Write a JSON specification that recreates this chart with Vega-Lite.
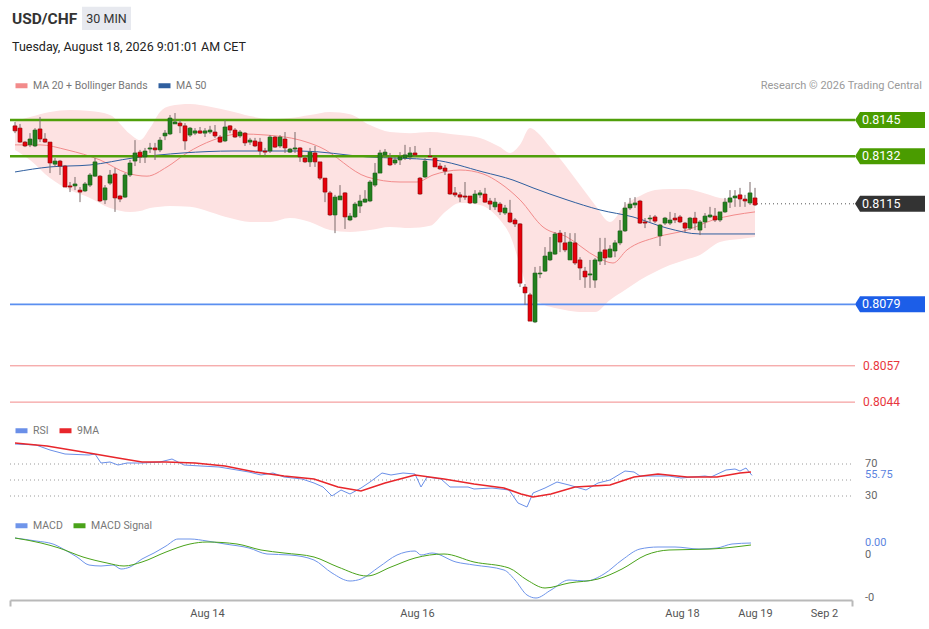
{
"$schema": "https://vega.github.io/schema/vega-lite/v6.json",
"width": 842, "height": 540,
"padding": {"left": 10, "top": 60, "right": 77, "bottom": 29},
"autosize": {"type": "none"},
"background": "white",
"title": {"text": "USD/CHF", "subtitle": "Tuesday, August 18, 2026 9:01:01 AM CET", "anchor": "start", "frame": "group", "dx": 2, "fontSize": 15.5, "fontWeight": "bold", "font": "Roboto", "color": "#333333", "subtitleFont": "Roboto", "subtitleFontSize": 12.5, "subtitleColor": "#222222", "subtitlePadding": 14, "offset": -47},
"config": {"view": {"stroke": null}, "font": "Roboto", "axisY": {"disable": true},
  "legend": {"orient": "none", "direction": "horizontal", "title": null, "labelFont": "Roboto", "labelFontSize": 10.5, "labelColor": "#777777", "symbolType": "stroke", "symbolStrokeWidth": 5, "symbolSize": 144, "columnPadding": 0, "labelOffset": 3, "padding": 0}},
"datasets": {
"candles": [
{"t":0,"o":0.81429,"h":0.81443,"l":0.81403,"c":0.81411},
{"t":1,"o":0.81421,"h":0.81436,"l":0.81368,"c":0.81371},
{"t":2,"o":0.81371,"h":0.81375,"l":0.81353,"c":0.81357},
{"t":3,"o":0.81361,"h":0.81403,"l":0.81353,"c":0.81382},
{"t":4,"o":0.81357,"h":0.81421,"l":0.81353,"c":0.81414},
{"t":5,"o":0.81418,"h":0.81461,"l":0.81371,"c":0.81382},
{"t":6,"o":0.81382,"h":0.81403,"l":0.81368,"c":0.81371},
{"t":7,"o":0.81371,"h":0.81371,"l":0.8126,"c":0.81296},
{"t":8,"o":0.81292,"h":0.81314,"l":0.81282,"c":0.81303},
{"t":9,"o":0.81303,"h":0.81307,"l":0.81253,"c":0.81285},
{"t":10,"o":0.81285,"h":0.81289,"l":0.8121,"c":0.8121},
{"t":11,"o":0.81214,"h":0.81228,"l":0.81192,"c":0.8121},
{"t":12,"o":0.81214,"h":0.81246,"l":0.81199,"c":0.81221},
{"t":13,"o":0.81199,"h":0.8121,"l":0.81156,"c":0.81192},
{"t":14,"o":0.81196,"h":0.81228,"l":0.81192,"c":0.81221},
{"t":15,"o":0.81217,"h":0.8126,"l":0.8121,"c":0.81253},
{"t":16,"o":0.81249,"h":0.81314,"l":0.81246,"c":0.813},
{"t":17,"o":0.81249,"h":0.81253,"l":0.81156,"c":0.8116},
{"t":18,"o":0.81164,"h":0.81217,"l":0.81149,"c":0.81207},
{"t":19,"o":0.81224,"h":0.81271,"l":0.81217,"c":0.81253},
{"t":20,"o":0.81257,"h":0.81278,"l":0.81121,"c":0.81171},
{"t":21,"o":0.81178,"h":0.81182,"l":0.81156,"c":0.81167},
{"t":22,"o":0.81174,"h":0.8126,"l":0.81171,"c":0.81253},
{"t":23,"o":0.81253,"h":0.81307,"l":0.81246,"c":0.81296},
{"t":24,"o":0.81303,"h":0.81378,"l":0.81285,"c":0.81332},
{"t":25,"o":0.81335,"h":0.81343,"l":0.81296,"c":0.81318},
{"t":26,"o":0.81318,"h":0.8135,"l":0.81296,"c":0.81339},
{"t":27,"o":0.81346,"h":0.81368,"l":0.81332,"c":0.8135},
{"t":28,"o":0.8135,"h":0.81368,"l":0.81307,"c":0.81343},
{"t":29,"o":0.81343,"h":0.81389,"l":0.81335,"c":0.81378},
{"t":30,"o":0.81393,"h":0.81414,"l":0.81378,"c":0.81403},
{"t":31,"o":0.814,"h":0.81468,"l":0.81396,"c":0.81457},
{"t":32,"o":0.81436,"h":0.81475,"l":0.81436,"c":0.81443},
{"t":33,"o":0.81439,"h":0.8145,"l":0.81403,"c":0.81429},
{"t":34,"o":0.81429,"h":0.81439,"l":0.81343,"c":0.81375},
{"t":35,"o":0.81396,"h":0.81425,"l":0.81389,"c":0.81421},
{"t":36,"o":0.81403,"h":0.81421,"l":0.81396,"c":0.81411},
{"t":37,"o":0.81411,"h":0.81425,"l":0.814,"c":0.81403},
{"t":38,"o":0.81403,"h":0.81421,"l":0.81389,"c":0.81411},
{"t":39,"o":0.81407,"h":0.81429,"l":0.814,"c":0.81414},
{"t":40,"o":0.81407,"h":0.81432,"l":0.81386,"c":0.81393},
{"t":41,"o":0.81389,"h":0.81396,"l":0.81368,"c":0.81371},
{"t":42,"o":0.81375,"h":0.8145,"l":0.81371,"c":0.81425},
{"t":43,"o":0.81429,"h":0.81432,"l":0.81403,"c":0.81414},
{"t":44,"o":0.81414,"h":0.81421,"l":0.81386,"c":0.81389},
{"t":45,"o":0.81393,"h":0.81414,"l":0.81386,"c":0.81407},
{"t":46,"o":0.81403,"h":0.81407,"l":0.81357,"c":0.81368},
{"t":47,"o":0.81371,"h":0.81386,"l":0.81361,"c":0.81378},
{"t":48,"o":0.81375,"h":0.81386,"l":0.81353,"c":0.81357},
{"t":49,"o":0.81371,"h":0.81386,"l":0.81325,"c":0.81339},
{"t":50,"o":0.81339,"h":0.8135,"l":0.81321,"c":0.81335},
{"t":51,"o":0.81339,"h":0.81396,"l":0.81332,"c":0.81389},
{"t":52,"o":0.81389,"h":0.81393,"l":0.8135,"c":0.81353},
{"t":53,"o":0.81357,"h":0.81396,"l":0.8135,"c":0.81389},
{"t":54,"o":0.81382,"h":0.81407,"l":0.81332,"c":0.8135},
{"t":55,"o":0.81335,"h":0.8135,"l":0.81332,"c":0.81346},
{"t":56,"o":0.81346,"h":0.81407,"l":0.81332,"c":0.8135},
{"t":57,"o":0.8135,"h":0.81353,"l":0.813,"c":0.81318},
{"t":58,"o":0.81314,"h":0.81325,"l":0.81296,"c":0.813},
{"t":59,"o":0.813,"h":0.8135,"l":0.81282,"c":0.81335},
{"t":60,"o":0.81332,"h":0.81357,"l":0.81282,"c":0.813},
{"t":61,"o":0.813,"h":0.813,"l":0.81235,"c":0.81242},
{"t":62,"o":0.81242,"h":0.81242,"l":0.81156,"c":0.81192},
{"t":63,"o":0.81189,"h":0.81196,"l":0.81106,"c":0.8111},
{"t":64,"o":0.8111,"h":0.81182,"l":0.81045,"c":0.81174},
{"t":65,"o":0.81164,"h":0.81217,"l":0.81164,"c":0.81178},
{"t":66,"o":0.81189,"h":0.81192,"l":0.8106,"c":0.81103},
{"t":67,"o":0.81092,"h":0.81117,"l":0.81088,"c":0.81106},
{"t":68,"o":0.81103,"h":0.81156,"l":0.81099,"c":0.81149},
{"t":69,"o":0.81142,"h":0.81182,"l":0.81117,"c":0.8116},
{"t":70,"o":0.81156,"h":0.81199,"l":0.81153,"c":0.81167},
{"t":71,"o":0.8116,"h":0.81235,"l":0.81156,"c":0.81228},
{"t":72,"o":0.81217,"h":0.81296,"l":0.8121,"c":0.8126},
{"t":73,"o":0.8126,"h":0.81343,"l":0.8126,"c":0.81332},
{"t":74,"o":0.81325,"h":0.81346,"l":0.81318,"c":0.81335},
{"t":75,"o":0.81314,"h":0.81332,"l":0.81285,"c":0.81289},
{"t":76,"o":0.81296,"h":0.81318,"l":0.81289,"c":0.81307},
{"t":77,"o":0.81307,"h":0.81335,"l":0.81289,"c":0.81318},
{"t":78,"o":0.81314,"h":0.81361,"l":0.81307,"c":0.81325},
{"t":79,"o":0.81318,"h":0.81353,"l":0.81307,"c":0.81332},
{"t":80,"o":0.81332,"h":0.81357,"l":0.81318,"c":0.81325},
{"t":81,"o":0.81242,"h":0.81246,"l":0.81182,"c":0.81185},
{"t":82,"o":0.81246,"h":0.81314,"l":0.81242,"c":0.81303},
{"t":83,"o":0.81321,"h":0.8135,"l":0.81318,"c":0.81318},
{"t":84,"o":0.81314,"h":0.81318,"l":0.81282,"c":0.81282},
{"t":85,"o":0.81285,"h":0.81296,"l":0.81271,"c":0.81275},
{"t":86,"o":0.81278,"h":0.81289,"l":0.81253,"c":0.81267},
{"t":87,"o":0.81257,"h":0.81257,"l":0.81182,"c":0.81185},
{"t":88,"o":0.81189,"h":0.8121,"l":0.81174,"c":0.81182},
{"t":89,"o":0.81182,"h":0.81192,"l":0.81156,"c":0.81174},
{"t":90,"o":0.81178,"h":0.81228,"l":0.81164,"c":0.81174},
{"t":91,"o":0.81178,"h":0.81178,"l":0.81149,"c":0.81153},
{"t":92,"o":0.81153,"h":0.81199,"l":0.81149,"c":0.81185},
{"t":93,"o":0.81182,"h":0.81199,"l":0.81171,"c":0.81189},
{"t":94,"o":0.81185,"h":0.81207,"l":0.81153,"c":0.81156},
{"t":95,"o":0.8116,"h":0.81171,"l":0.81128,"c":0.81149},
{"t":96,"o":0.81139,"h":0.81171,"l":0.81128,"c":0.81156},
{"t":97,"o":0.81149,"h":0.81156,"l":0.8111,"c":0.81121},
{"t":98,"o":0.81117,"h":0.81146,"l":0.8111,"c":0.81135},
{"t":99,"o":0.81117,"h":0.81164,"l":0.81081,"c":0.81085},
{"t":100,"o":0.81092,"h":0.81099,"l":0.81067,"c":0.81078},
{"t":101,"o":0.81078,"h":0.81081,"l":0.80852,"c":0.80866},
{"t":102,"o":0.80852,"h":0.80863,"l":0.80788,"c":0.80831},
{"t":103,"o":0.80824,"h":0.80831,"l":0.8073,"c":0.8073},
{"t":104,"o":0.80727,"h":0.80924,"l":0.80723,"c":0.80902},
{"t":105,"o":0.80899,"h":0.80927,"l":0.80884,"c":0.80902},
{"t":106,"o":0.80909,"h":0.80995,"l":0.80906,"c":0.80963},
{"t":107,"o":0.80949,"h":0.81031,"l":0.80945,"c":0.80977},
{"t":108,"o":0.8097,"h":0.81049,"l":0.80967,"c":0.81042},
{"t":109,"o":0.81045,"h":0.81056,"l":0.80977,"c":0.81013},
{"t":110,"o":0.8101,"h":0.81049,"l":0.80977,"c":0.80985},
{"t":111,"o":0.80949,"h":0.81045,"l":0.80949,"c":0.81013},
{"t":112,"o":0.8101,"h":0.81045,"l":0.80931,"c":0.80938},
{"t":113,"o":0.80949,"h":0.80959,"l":0.80877,"c":0.8092},
{"t":114,"o":0.80909,"h":0.80924,"l":0.80849,"c":0.80888},
{"t":115,"o":0.80895,"h":0.80949,"l":0.80849,"c":0.80899},
{"t":116,"o":0.80877,"h":0.80956,"l":0.80849,"c":0.80949},
{"t":117,"o":0.80945,"h":0.81028,"l":0.80931,"c":0.80977},
{"t":118,"o":0.80985,"h":0.81028,"l":0.80931,"c":0.80956},
{"t":119,"o":0.80959,"h":0.81002,"l":0.80956,"c":0.80988},
{"t":120,"o":0.80981,"h":0.8102,"l":0.80959,"c":0.8101},
{"t":121,"o":0.8101,"h":0.81092,"l":0.81002,"c":0.81053},
{"t":122,"o":0.81053,"h":0.81156,"l":0.81049,"c":0.81135},
{"t":123,"o":0.81135,"h":0.81171,"l":0.81128,"c":0.81149},
{"t":124,"o":0.81146,"h":0.81174,"l":0.81135,"c":0.81153},
{"t":125,"o":0.8116,"h":0.81164,"l":0.81078,"c":0.81081},
{"t":126,"o":0.81085,"h":0.81099,"l":0.81063,"c":0.81081},
{"t":127,"o":0.81096,"h":0.8111,"l":0.81085,"c":0.81099},
{"t":128,"o":0.81103,"h":0.8111,"l":0.81081,"c":0.81088},
{"t":129,"o":0.81035,"h":0.81078,"l":0.80999,"c":0.81074},
{"t":130,"o":0.81081,"h":0.81103,"l":0.81074,"c":0.81099},
{"t":131,"o":0.81081,"h":0.81121,"l":0.81074,"c":0.81092},
{"t":132,"o":0.81099,"h":0.81117,"l":0.81081,"c":0.81092},
{"t":133,"o":0.81103,"h":0.8111,"l":0.81081,"c":0.81085},
{"t":134,"o":0.81081,"h":0.81085,"l":0.81049,"c":0.81063},
{"t":135,"o":0.81063,"h":0.81103,"l":0.81056,"c":0.81099},
{"t":136,"o":0.81099,"h":0.81121,"l":0.81056,"c":0.81081},
{"t":137,"o":0.81056,"h":0.81092,"l":0.81038,"c":0.81085},
{"t":138,"o":0.81085,"h":0.81117,"l":0.81063,"c":0.81106},
{"t":139,"o":0.81103,"h":0.81139,"l":0.81099,"c":0.8111},
{"t":140,"o":0.81106,"h":0.81135,"l":0.81085,"c":0.81092},
{"t":141,"o":0.81092,"h":0.81121,"l":0.81085,"c":0.81121},
{"t":142,"o":0.81121,"h":0.81171,"l":0.81117,"c":0.81156},
{"t":143,"o":0.81156,"h":0.81199,"l":0.81135,"c":0.81171},
{"t":144,"o":0.81171,"h":0.81199,"l":0.81139,"c":0.81178},
{"t":145,"o":0.81182,"h":0.81207,"l":0.81139,"c":0.81167},
{"t":146,"o":0.81167,"h":0.81182,"l":0.81139,"c":0.8116},
{"t":147,"o":0.81153,"h":0.81228,"l":0.81146,"c":0.81189},
{"t":148,"o":0.81171,"h":0.81207,"l":0.81142,"c":0.81146}
],
"bands": [
{"t":0,"up":0.81446,"lo":0.81343},{"t":3,"up":0.81461,"lo":0.81307},{"t":7,"up":0.81479,"lo":0.81242},{"t":11,"up":0.81486,"lo":0.81199},
{"t":15,"up":0.81482,"lo":0.81171},{"t":19,"up":0.81468,"lo":0.81135},{"t":23,"up":0.814,"lo":0.81121},{"t":25,"up":0.81378,"lo":0.81124},
{"t":27,"up":0.81421,"lo":0.81135},{"t":29,"up":0.81479,"lo":0.81139},{"t":31,"up":0.815,"lo":0.81142},{"t":35,"up":0.81507,"lo":0.81139},
{"t":39,"up":0.81497,"lo":0.81121},{"t":43,"up":0.81482,"lo":0.81099},{"t":47,"up":0.81464,"lo":0.81085},{"t":51,"up":0.81454,"lo":0.81085},
{"t":55,"up":0.81457,"lo":0.81099},{"t":59,"up":0.81468,"lo":0.81085},{"t":63,"up":0.81479,"lo":0.81056},{"t":67,"up":0.81471,"lo":0.81049},
{"t":71,"up":0.81432,"lo":0.81056},{"t":75,"up":0.81407,"lo":0.81067},{"t":79,"up":0.81403,"lo":0.81063},{"t":83,"up":0.81407,"lo":0.81071},
{"t":86,"up":0.81403,"lo":0.81121},{"t":89,"up":0.81396,"lo":0.81153},{"t":93,"up":0.81386,"lo":0.81146},{"t":97,"up":0.81353,"lo":0.81092},
{"t":99,"up":0.81332,"lo":0.81038},{"t":101,"up":0.81361,"lo":0.80931},{"t":103,"up":0.81421,"lo":0.80824},{"t":105,"up":0.81396,"lo":0.80795},
{"t":107,"up":0.81353,"lo":0.80781},{"t":110,"up":0.81289,"lo":0.8077},{"t":113,"up":0.81217,"lo":0.80763},{"t":116,"up":0.81146,"lo":0.80763},
{"t":119,"up":0.81085,"lo":0.80806},{"t":122,"up":0.81146,"lo":0.80841},{"t":125,"up":0.81178,"lo":0.80877},{"t":128,"up":0.81199,"lo":0.80906},
{"t":131,"up":0.81203,"lo":0.80931},{"t":134,"up":0.81203,"lo":0.80949},{"t":137,"up":0.81192,"lo":0.80967},{"t":141,"up":0.81171,"lo":0.81013},
{"t":145,"up":0.81164,"lo":0.81024},{"t":148,"up":0.81164,"lo":0.81031}
],
"ma": [
{"t":0,"series":"MA 20 + Bollinger Bands","v":0.81361},{"t":5,"series":"MA 20 + Bollinger Bands","v":0.81361},{"t":10.4,"series":"MA 20 + Bollinger Bands","v":0.81343},
{"t":17,"series":"MA 20 + Bollinger Bands","v":0.81307},{"t":22.4,"series":"MA 20 + Bollinger Bands","v":0.8126},{"t":26.4,"series":"MA 20 + Bollinger Bands","v":0.81249},
{"t":30.4,"series":"MA 20 + Bollinger Bands","v":0.81282},{"t":34.4,"series":"MA 20 + Bollinger Bands","v":0.81332},{"t":39.6,"series":"MA 20 + Bollinger Bands","v":0.81378},
{"t":45,"series":"MA 20 + Bollinger Bands","v":0.814},{"t":50.4,"series":"MA 20 + Bollinger Bands","v":0.81396},{"t":57,"series":"MA 20 + Bollinger Bands","v":0.81378},
{"t":61,"series":"MA 20 + Bollinger Bands","v":0.81353},{"t":70.4,"series":"MA 20 + Bollinger Bands","v":0.81246},{"t":77,"series":"MA 20 + Bollinger Bands","v":0.81228},
{"t":80.4,"series":"MA 20 + Bollinger Bands","v":0.81228},{"t":83.6,"series":"MA 20 + Bollinger Bands","v":0.81253},{"t":89,"series":"MA 20 + Bollinger Bands","v":0.81271},
{"t":93.6,"series":"MA 20 + Bollinger Bands","v":0.81257},{"t":97,"series":"MA 20 + Bollinger Bands","v":0.81224},{"t":101,"series":"MA 20 + Bollinger Bands","v":0.81164},
{"t":105.6,"series":"MA 20 + Bollinger Bands","v":0.81067},{"t":110.4,"series":"MA 20 + Bollinger Bands","v":0.81031},{"t":116.4,"series":"MA 20 + Bollinger Bands","v":0.80959},
{"t":119.6,"series":"MA 20 + Bollinger Bands","v":0.80938},{"t":122.4,"series":"MA 20 + Bollinger Bands","v":0.80985},{"t":128.4,"series":"MA 20 + Bollinger Bands","v":0.81031},
{"t":134.4,"series":"MA 20 + Bollinger Bands","v":0.81056},{"t":139.6,"series":"MA 20 + Bollinger Bands","v":0.81092},{"t":148,"series":"MA 20 + Bollinger Bands","v":0.81121},
{"t":0,"series":"MA 50","v":0.81264},{"t":7,"series":"MA 50","v":0.81282},{"t":15,"series":"MA 50","v":0.81289},{"t":23.6,"series":"MA 50","v":0.81314},
{"t":33.6,"series":"MA 50","v":0.81332},{"t":43.6,"series":"MA 50","v":0.81339},{"t":57,"series":"MA 50","v":0.81339},{"t":70.4,"series":"MA 50","v":0.81318},
{"t":83.6,"series":"MA 50","v":0.81307},{"t":93.6,"series":"MA 50","v":0.81264},{"t":99.6,"series":"MA 50","v":0.81235},{"t":103.6,"series":"MA 50","v":0.81207},
{"t":110.4,"series":"MA 50","v":0.81164},{"t":117,"series":"MA 50","v":0.81128},{"t":123.6,"series":"MA 50","v":0.81103},{"t":130.4,"series":"MA 50","v":0.81063},
{"t":137,"series":"MA 50","v":0.81042},{"t":148,"series":"MA 50","v":0.81042}
],
"levels": [
{"price":0.8145,"label":"0.8145","kind":"res"},
{"price":0.8132,"label":"0.8132","kind":"res"},
{"price":0.8115,"label":"0.8115","kind":"last"},
{"price":0.8079,"label":"0.8079","kind":"sup"},
{"price":0.8057,"label":"0.8057","kind":"sup2"},
{"price":0.8044,"label":"0.8044","kind":"sup2"}
],
"notes": [
{"note":"Research © 2026 Trading Central"}
],
"badge": [
{"note":"30 MIN"}
],
"rsi": [
{"t":0,"series":"RSI","v":95},{"t":4.2,"series":"RSI","v":93.75},{"t":7,"series":"RSI","v":87.5},{"t":10,"series":"RSI","v":82.5},{"t":14.8,"series":"RSI","v":81.25},
{"t":16,"series":"RSI","v":82.5},{"t":17.2,"series":"RSI","v":71.25},{"t":19,"series":"RSI","v":72.5},{"t":20.6,"series":"RSI","v":68.75},{"t":22.4,"series":"RSI","v":71.25},
{"t":25.4,"series":"RSI","v":71.25},{"t":29,"series":"RSI","v":72.5},{"t":31.4,"series":"RSI","v":76.25},{"t":33.8,"series":"RSI","v":68.75},{"t":37.2,"series":"RSI","v":67.5},
{"t":40.8,"series":"RSI","v":66.25},{"t":44.4,"series":"RSI","v":62.5},{"t":46.8,"series":"RSI","v":60},{"t":49.2,"series":"RSI","v":56.25},{"t":51.6,"series":"RSI","v":58.75},
{"t":53.8,"series":"RSI","v":53.75},{"t":57.4,"series":"RSI","v":51.25},{"t":59.8,"series":"RSI","v":46.25},{"t":61.6,"series":"RSI","v":41.25},{"t":63.4,"series":"RSI","v":30},
{"t":65.2,"series":"RSI","v":37.5},{"t":67,"series":"RSI","v":32.5},{"t":69.2,"series":"RSI","v":40},{"t":71,"series":"RSI","v":47.5},{"t":73.4,"series":"RSI","v":58.75},
{"t":75.2,"series":"RSI","v":56.25},{"t":77.6,"series":"RSI","v":58.75},{"t":80,"series":"RSI","v":57.5},{"t":81.2,"series":"RSI","v":41.25},{"t":82.4,"series":"RSI","v":53.75},
{"t":85.2,"series":"RSI","v":51.25},{"t":87,"series":"RSI","v":41.25},{"t":90.6,"series":"RSI","v":41.25},{"t":91.8,"series":"RSI","v":38.75},{"t":95.4,"series":"RSI","v":40},
{"t":98.8,"series":"RSI","v":37.5},{"t":100.6,"series":"RSI","v":21.25},{"t":102.4,"series":"RSI","v":16.25},{"t":103.6,"series":"RSI","v":33.75},{"t":106,"series":"RSI","v":40},
{"t":108.4,"series":"RSI","v":47.5},{"t":110.8,"series":"RSI","v":43.75},{"t":114.2,"series":"RSI","v":37.5},{"t":116.6,"series":"RSI","v":46.25},{"t":119,"series":"RSI","v":50},
{"t":122,"series":"RSI","v":61.25},{"t":123.8,"series":"RSI","v":60},{"t":125,"series":"RSI","v":55},{"t":127.4,"series":"RSI","v":55},{"t":130.8,"series":"RSI","v":55},
{"t":133.2,"series":"RSI","v":52.5},{"t":135.6,"series":"RSI","v":53.75},{"t":138,"series":"RSI","v":55},{"t":139.2,"series":"RSI","v":53.75},{"t":142.2,"series":"RSI","v":62.5},
{"t":144,"series":"RSI","v":63.75},{"t":145,"series":"RSI","v":61.25},{"t":146.2,"series":"RSI","v":65},{"t":147.4,"series":"RSI","v":55.75},
{"t":0,"series":"9MA","v":96.25},{"t":6.4,"series":"9MA","v":92.5},{"t":14.8,"series":"9MA","v":83.75},{"t":20.6,"series":"9MA","v":77.5},{"t":25.4,"series":"9MA","v":72.5},
{"t":30.2,"series":"9MA","v":72.5},{"t":36,"series":"9MA","v":71.25},{"t":42,"series":"9MA","v":67.5},{"t":48,"series":"9MA","v":60},{"t":53.8,"series":"9MA","v":55},
{"t":59.8,"series":"9MA","v":51.25},{"t":64.6,"series":"9MA","v":41.25},{"t":69.2,"series":"9MA","v":36.25},{"t":74,"series":"9MA","v":46.25},{"t":80,"series":"9MA","v":56.25},
{"t":85.8,"series":"9MA","v":51.25},{"t":91.8,"series":"9MA","v":45},{"t":97.8,"series":"9MA","v":40},{"t":101.2,"series":"9MA","v":32.5},{"t":103.6,"series":"9MA","v":28.75},
{"t":107.2,"series":"9MA","v":32.5},{"t":112,"series":"9MA","v":41.25},{"t":119,"series":"9MA","v":43.75},{"t":123.8,"series":"9MA","v":53.75},{"t":128.6,"series":"9MA","v":57.5},
{"t":134.4,"series":"9MA","v":53.75},{"t":140.4,"series":"9MA","v":53.75},{"t":145,"series":"9MA","v":58.75},{"t":147.2,"series":"9MA","v":60}
],
"macd": [
{"t":0,"series":"MACD","v":0.00017},{"t":4.2,"series":"MACD","v":0.00014},{"t":7.6,"series":"MACD","v":0.00011},{"t":10,"series":"MACD","v":0.00005},{"t":12.4,"series":"MACD","v":-0.00002},
{"t":14.8,"series":"MACD","v":-0.0001},{"t":17.2,"series":"MACD","v":-0.00011},{"t":19.6,"series":"MACD","v":-0.0001},{"t":21.2,"series":"MACD","v":-0.00014},{"t":23,"series":"MACD","v":-0.00012},
{"t":25.4,"series":"MACD","v":-0.00004},{"t":27.8,"series":"MACD","v":0.00002},{"t":30.2,"series":"MACD","v":0.00009},{"t":32.6,"series":"MACD","v":0.00016},{"t":35,"series":"MACD","v":0.00016},
{"t":38.4,"series":"MACD","v":0.00014},{"t":42,"series":"MACD","v":0.00011},{"t":46.8,"series":"MACD","v":0.00007},{"t":50.4,"series":"MACD","v":0.00001},{"t":55,"series":"MACD","v":0},
{"t":59.8,"series":"MACD","v":-0.00005},{"t":63.4,"series":"MACD","v":-0.00018},{"t":67,"series":"MACD","v":-0.00026},{"t":69.2,"series":"MACD","v":-0.00024},{"t":72.8,"series":"MACD","v":-0.00012},
{"t":76.4,"series":"MACD","v":0},{"t":80,"series":"MACD","v":0.00004},{"t":81.2,"series":"MACD","v":0},{"t":83.4,"series":"MACD","v":0.00002},{"t":88.2,"series":"MACD","v":-0.00007},
{"t":91.8,"series":"MACD","v":-0.0001},{"t":97.8,"series":"MACD","v":-0.00015},{"t":100,"series":"MACD","v":-0.00025},{"t":102.4,"series":"MACD","v":-0.0004},{"t":104.2,"series":"MACD","v":-0.00043},
{"t":107.2,"series":"MACD","v":-0.00035},{"t":110.8,"series":"MACD","v":-0.00025},{"t":114.2,"series":"MACD","v":-0.00026},{"t":117.8,"series":"MACD","v":-0.00019},{"t":121.4,"series":"MACD","v":-0.00005},
{"t":125,"series":"MACD","v":0.00006},{"t":128.6,"series":"MACD","v":0.00008},{"t":132,"series":"MACD","v":0.00008},{"t":136.8,"series":"MACD","v":0.00006},{"t":140.4,"series":"MACD","v":0.00007},
{"t":143.4,"series":"MACD","v":0.00011},{"t":147.2,"series":"MACD","v":0.00012},
{"t":0,"series":"MACD Signal","v":0.00017},{"t":5.2,"series":"MACD Signal","v":0.00012},{"t":8.8,"series":"MACD Signal","v":0.00007},{"t":13.6,"series":"MACD Signal","v":-0.00002},
{"t":18.4,"series":"MACD Signal","v":-0.00008},{"t":21.8,"series":"MACD Signal","v":-0.00011},{"t":25.4,"series":"MACD Signal","v":-0.00007},{"t":30.2,"series":"MACD Signal","v":0.00003},
{"t":35,"series":"MACD Signal","v":0.00011},{"t":38.4,"series":"MACD Signal","v":0.00013},{"t":44.4,"series":"MACD Signal","v":0.00011},{"t":49.2,"series":"MACD Signal","v":0.00005},
{"t":53.8,"series":"MACD Signal","v":0.00002},{"t":59.8,"series":"MACD Signal","v":-0.00002},{"t":64.6,"series":"MACD Signal","v":-0.00012},{"t":70.4,"series":"MACD Signal","v":-0.00021},
{"t":75.2,"series":"MACD Signal","v":-0.00012},{"t":80,"series":"MACD Signal","v":-0.00003},{"t":85.8,"series":"MACD Signal","v":0.00001},{"t":91.8,"series":"MACD Signal","v":-0.00007},
{"t":98.8,"series":"MACD Signal","v":-0.00013},{"t":102.4,"series":"MACD Signal","v":-0.00025},{"t":106,"series":"MACD Signal","v":-0.00033},{"t":110.8,"series":"MACD Signal","v":-0.00028},
{"t":116.6,"series":"MACD Signal","v":-0.00024},{"t":121.4,"series":"MACD Signal","v":-0.00014},{"t":126.2,"series":"MACD Signal","v":0},{"t":130.8,"series":"MACD Signal","v":0.00005},
{"t":139.2,"series":"MACD Signal","v":0.00006},{"t":147.2,"series":"MACD Signal","v":0.0001}
]
},
"layer": [
{
"layer": [
{"data": {"name": "bands"}, "mark": {"type": "area", "color": "#fde2e2", "interpolate": "monotone"},
 "encoding": {
  "x": {"field": "t", "type": "quantitative", "scale": {"domain": [-1, 167.4], "nice": false, "zero": false, "padding": 0},
   "axis": {"values": [-1, 38.4, 80.4, 133.4, 148, 161.8, 167.4], "title": null, "grid": false,
    "labelExpr": "datum.value > 30 && datum.value < 45 ? 'Aug 14' : datum.value > 75 && datum.value < 85 ? 'Aug 16' : datum.value > 130 && datum.value < 140 ? 'Aug 18' : datum.value > 145 && datum.value < 150 ? 'Aug 19' : datum.value > 155 && datum.value < 165 ? 'Sep 2' : ''",
    "labelOverlap": false, "labelFlush": false, "labelFont": "Roboto", "labelFontSize": 11, "labelColor": "#555555", "labelPadding": 1,
    "domainColor": "#b9b9b9", "domainWidth": 2, "tickColor": "#b9b9b9", "tickWidth": 2, "tickSize": 6,
    "tickOpacity": {"condition": {"test": "datum.value < 0 || datum.value > 167", "value": 1}, "value": 0}}},
  "y": {"field": "up", "type": "quantitative", "scale": {"domain": [0.797316, 0.816648], "nice": false, "zero": false}},
  "y2": {"field": "lo"}}},
{"data": {"name": "ma"}, "mark": {"type": "line", "strokeWidth": 1, "interpolate": "monotone"},
 "encoding": {
  "x": {"field": "t", "type": "quantitative"},
  "y": {"field": "v", "type": "quantitative"},
  "color": {"field": "series", "type": "nominal", "scale": {"domain": ["MA 20 + Bollinger Bands", "MA 50"], "range": ["#f28b8b", "#2f5f9f"]},
   "legend": {"legendX": 3, "legendY": 17}}}},
{"data": {"name": "levels"}, "transform": [{"filter": "datum.kind == 'res'"}], "mark": {"type": "rule", "color": "#4f9f0a", "strokeWidth": 2.5},
 "encoding": {"x": {"datum": -1, "type": "quantitative"}, "x2": {"datum": 168}, "y": {"field": "price", "type": "quantitative"}}},
{"data": {"name": "levels"}, "transform": [{"filter": "datum.kind == 'sup'"}], "mark": {"type": "rule", "color": "#5b8ff0", "strokeWidth": 1.6},
 "encoding": {"x": {"datum": -1, "type": "quantitative"}, "x2": {"datum": 168}, "y": {"field": "price", "type": "quantitative"}}},
{"data": {"name": "levels"}, "transform": [{"filter": "datum.kind == 'sup2'"}], "mark": {"type": "rule", "color": "#f28a8a", "strokeWidth": 1},
 "encoding": {"x": {"datum": -1, "type": "quantitative"}, "x2": {"datum": 168}, "y": {"field": "price", "type": "quantitative"}}},
{"data": {"name": "levels"}, "transform": [{"filter": "datum.kind == 'last'"}], "mark": {"type": "rule", "color": "#555555", "strokeWidth": 1, "strokeDash": [1, 3]},
 "encoding": {"x": {"datum": 148.4, "type": "quantitative"}, "x2": {"datum": 168}, "y": {"field": "price", "type": "quantitative"}}},
{"data": {"name": "candles"}, "mark": {"type": "rule", "color": "#7d6b6b", "strokeWidth": 1},
 "encoding": {"x": {"field": "t", "type": "quantitative"}, "y": {"field": "l", "type": "quantitative"}, "y2": {"field": "h"}}},
{"data": {"name": "candles"}, "mark": {"type": "bar", "size": 4, "strokeWidth": 0.6},
 "encoding": {"x": {"field": "t", "type": "quantitative"}, "y": {"field": "o", "type": "quantitative"}, "y2": {"field": "c"},
  "color": {"condition": {"test": "datum.c >= datum.o", "value": "#23801e"}, "value": "#e6000b"},
  "stroke": {"condition": {"test": "datum.c >= datum.o", "value": "#1a5c15"}, "value": "#8a0a0a"}}},
{"mark": {"type": "rule", "color": "#2f5f9e", "strokeWidth": 3.5, "strokeCap": "round"},
 "encoding": {"x": {"datum": 148.6, "type": "quantitative"}, "y": {"datum": 0.81146, "type": "quantitative"}, "x2": {"datum": 165.4}, "y2": {"datum": 0.81418}}},
{"mark": {"type": "point", "shape": "triangle-up", "filled": true, "color": "#2f5f9e", "size": 190, "angle": 48, "opacity": 1},
 "encoding": {"x": {"datum": 166.2, "type": "quantitative"}, "y": {"datum": 0.81431, "type": "quantitative"}}},
{"data": {"name": "levels"}, "transform": [{"filter": "datum.kind != 'sup2'"}],
 "mark": {"type": "point", "shape": "M-1,0L-0.857,-0.229L1,-0.229L1,0.229L-0.857,0.229Z", "filled": true, "size": 4900, "opacity": 1, "strokeWidth": 0},
 "encoding": {"x": {"datum": 175, "type": "quantitative"}, "y": {"field": "price", "type": "quantitative"},
  "fill": {"condition": [{"test": "datum.kind == 'res'", "value": "#4a9c00"}, {"test": "datum.kind == 'sup'", "value": "#1c5ee8"}], "value": "#333333"}}},
{"data": {"name": "levels"}, "transform": [{"filter": "datum.kind != 'sup2'"}],
 "mark": {"type": "text", "align": "left", "baseline": "middle", "fontSize": 12.5, "font": "Roboto", "color": "#ffffff"},
 "encoding": {"x": {"datum": 169.4, "type": "quantitative"}, "y": {"field": "price", "type": "quantitative"}, "text": {"field": "label"}}},
{"data": {"name": "levels"}, "transform": [{"filter": "datum.kind == 'sup2'"}],
 "mark": {"type": "text", "align": "left", "baseline": "middle", "fontSize": 12, "font": "Roboto", "color": "#e8363c"},
 "encoding": {"x": {"datum": 169.6, "type": "quantitative"}, "y": {"field": "price", "type": "quantitative"}, "text": {"field": "label"}}},
{"data": {"name": "notes"}, "mark": {"type": "text", "align": "right", "baseline": "middle", "fontSize": 11, "font": "Roboto", "color": "#9a9a9a"},
 "encoding": {"x": {"datum": 181.4, "type": "quantitative"}, "y": {"datum": 0.81572, "type": "quantitative"}, "text": {"field": "note"}}},
{"data": {"name": "badge"}, "mark": {"type": "rect", "color": "#e7e9ef"},
 "encoding": {"x": {"datum": 13.4, "type": "quantitative"}, "x2": {"datum": 23.2}, "y": {"datum": 0.81855, "type": "quantitative"}, "y2": {"datum": 0.81772}}},
{"data": {"name": "badge"}, "mark": {"type": "text", "align": "center", "baseline": "middle", "fontSize": 12.5, "font": "Roboto", "color": "#333333"},
 "encoding": {"x": {"datum": 18.3, "type": "quantitative"}, "y": {"datum": 0.81812, "type": "quantitative"}, "text": {"field": "note"}}}
]
},
{
"layer": [
{"data": {"values": [{"v": 70}, {"v": 50}, {"v": 30}]}, "mark": {"type": "rule", "color": "#9a9a9a", "strokeWidth": 1, "strokeDash": [1, 3]},
 "encoding": {"x": {"datum": -1, "type": "quantitative"}, "x2": {"datum": 167.4}, "y": {"field": "v", "type": "quantitative", "scale": {"domain": [-100, 575], "nice": false, "zero": false}}}},
{"data": {"name": "rsi"}, "mark": {"type": "line", "interpolate": "linear"},
 "encoding": {"x": {"field": "t", "type": "quantitative"}, "y": {"field": "v", "type": "quantitative"},
  "strokeWidth": {"condition": {"test": "datum.series == '9MA'", "value": 1.5}, "value": 1},
  "color": {"field": "series", "type": "nominal", "scale": {"domain": ["RSI", "9MA"], "range": ["#6a8fe8", "#e8262b"]}, "legend": {"legendX": 3, "legendY": 362}}}},
{"mark": {"type": "rule", "color": "#6a8fe8", "strokeWidth": 1, "strokeDash": [1, 3]},
 "encoding": {"x": {"datum": 148, "type": "quantitative"}, "x2": {"datum": 166.4}, "y": {"datum": 55.75, "type": "quantitative"}}},
{"data": {"values": [{"v": 70, "label": "70"}, {"v": 55.75, "label": "55.75"}, {"v": 30, "label": "30"}]},
 "mark": {"type": "text", "align": "left", "baseline": "middle", "fontSize": 11, "font": "Roboto"},
 "encoding": {"x": {"datum": 170, "type": "quantitative"}, "y": {"field": "v", "type": "quantitative"}, "text": {"field": "label"},
  "color": {"condition": {"test": "datum.label == '55.75'", "value": "#5b84e0"}, "value": "#666666"}}}
]
},
{
"layer": [
{"data": {"name": "macd"}, "mark": {"type": "line", "strokeWidth": 1, "interpolate": "monotone"},
 "encoding": {"x": {"field": "t", "type": "quantitative"}, "y": {"field": "v", "type": "quantitative", "scale": {"domain": [-0.00045, 0.00495], "nice": false, "zero": false}},
  "color": {"field": "series", "type": "nominal", "scale": {"domain": ["MACD", "MACD Signal"], "range": ["#6f95ea", "#4aa31a"]}, "legend": {"legendX": 3, "legendY": 457}}}},
{"mark": {"type": "rule", "color": "#6f95ea", "strokeWidth": 1, "strokeDash": [1, 3]},
 "encoding": {"x": {"datum": 148, "type": "quantitative"}, "x2": {"datum": 166.4}, "y": {"datum": 0.00012, "type": "quantitative"}}},
{"data": {"values": [{"v": 0.00012, "label": "0.00"}, {"v": 0, "label": "0"}, {"v": -0.00043, "label": "-0"}]},
 "mark": {"type": "text", "align": "left", "baseline": "middle", "fontSize": 11, "font": "Roboto"},
 "encoding": {"x": {"datum": 170, "type": "quantitative"}, "y": {"field": "v", "type": "quantitative"}, "text": {"field": "label"},
  "color": {"condition": {"test": "datum.label == '0.00'", "value": "#5b84e0"}, "value": "#666666"}}}
]
}
],
"resolve": {"scale": {"y": "independent", "color": "independent"}, "legend": {"color": "independent"}}
}
